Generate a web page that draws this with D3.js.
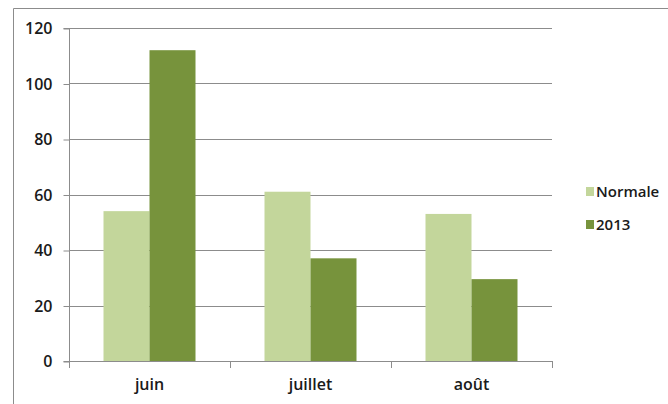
<!DOCTYPE html>
<html>
<head>
<meta charset="utf-8">
<script src="https://cdn.jsdelivr.net/npm/d3@7/dist/d3.min.js"></script>
<style>
  html, body { margin: 0; padding: 0; background: #fff; }
  svg { display: block; }
</style>
</head>
<body>
<svg id="chart" width="668" height="404"></svg>
<script>
// Monthly values: normal vs 2013
const months = ["juin", "juillet", "août"];
const seriesNames = ["Normale", "2013"];
const normale = [54, 61, 53];
const y2013 = [112, 37, 29.5];
const yTicks = [0, 20, 40, 60, 80, 100, 120];
const colors = ["#c3d69b", "#77933c"];

const svg = d3.select("#chart");
const font = "'Open Sans', 'DejaVu Sans', sans-serif";
const gridColor = "#8c8c8c";

// outer frame (top and left edges visible)
svg.append("path")
  .attr("d", "M13.5,404 V8.5 H668")
  .attr("fill", "none")
  .attr("stroke", gridColor)
  .attr("stroke-width", 1);

const plot = { left: 69, right: 552, top: 28, bottom: 361 };

const x = d3.scaleBand().domain(months).range([plot.left, plot.right]).padding(0);
const xInner = d3.scaleBand().domain(seriesNames)
  .range([0, x.bandwidth()]).paddingOuter(0.75).paddingInner(0);
const y = d3.scaleLinear().domain([0, 120]).range([plot.bottom, plot.top]);

// gridlines
svg.append("g").selectAll("line").data(yTicks.filter(d => d > 0)).join("line")
  .attr("x1", plot.left).attr("x2", plot.right)
  .attr("y1", d => Math.round(y(d)) + 0.5).attr("y2", d => Math.round(y(d)) + 0.5)
  .attr("stroke", gridColor).attr("stroke-width", 1);

// bars
const rows = months.map((m, i) => ({ month: m, values: [normale[i], y2013[i]] }));
const groups = svg.append("g").selectAll("g").data(rows).join("g")
  .attr("transform", d => `translate(${x(d.month)},0)`);
groups.selectAll("rect").data(d => d.values.map((v, j) => ({ key: seriesNames[j], v, j })))
  .join("rect")
  .attr("x", d => xInner(d.key))
  .attr("width", xInner.bandwidth())
  .attr("y", d => y(d.v))
  .attr("height", d => y(0) - y(d.v))
  .attr("fill", d => colors[d.j]);

// y axis
const yAxis = d3.axisLeft(y).tickValues(yTicks).tickSize(6).tickPadding(11);
const gy = svg.append("g")
  .attr("transform", `translate(${plot.left + 0.5},0.5)`)
  .call(yAxis);
gy.select(".domain").attr("stroke", gridColor).attr("d", `M-6,${plot.bottom}H0V${plot.top}H-6`);
gy.selectAll(".tick line").attr("stroke", gridColor);
gy.selectAll(".tick text")
  .attr("font-family", font).attr("font-size", 16).attr("font-weight", 600)
  .attr("fill", "#1a1a1a");

// x axis
const xAxis = d3.axisBottom(x).tickSize(0).tickPadding(17);
const gx = svg.append("g")
  .attr("transform", `translate(0,${plot.bottom + 0.5})`)
  .call(xAxis);
gx.select(".domain").attr("stroke", gridColor).attr("d", `M${plot.left},0H${plot.right}`);
gx.selectAll(".tick text")
  .attr("font-family", font).attr("font-size", 16).attr("font-weight", 600)
  .attr("fill", "#1a1a1a");
// category separator ticks
svg.append("g").selectAll("line")
  .data(months.map(m => x(m)).concat([plot.right]))
  .join("line")
  .attr("x1", d => Math.round(d) + 0.5).attr("x2", d => Math.round(d) + 0.5)
  .attr("y1", plot.bottom).attr("y2", plot.bottom + 7)
  .attr("stroke", gridColor);

// legend
const legend = svg.append("g").selectAll("g").data(seriesNames).join("g")
  .attr("transform", (d, i) => `translate(586,${187 + i * 33})`);
legend.append("rect").attr("width", 8).attr("height", 9)
  .attr("fill", (d, i) => colors[i]);
legend.append("text")
  .attr("x", 10).attr("y", 9.5)
  .attr("font-family", font).attr("font-size", 15).attr("font-weight", 600)
  .attr("fill", "#1a1a1a")
  .text(d => d);
</script>
</body>
</html>
